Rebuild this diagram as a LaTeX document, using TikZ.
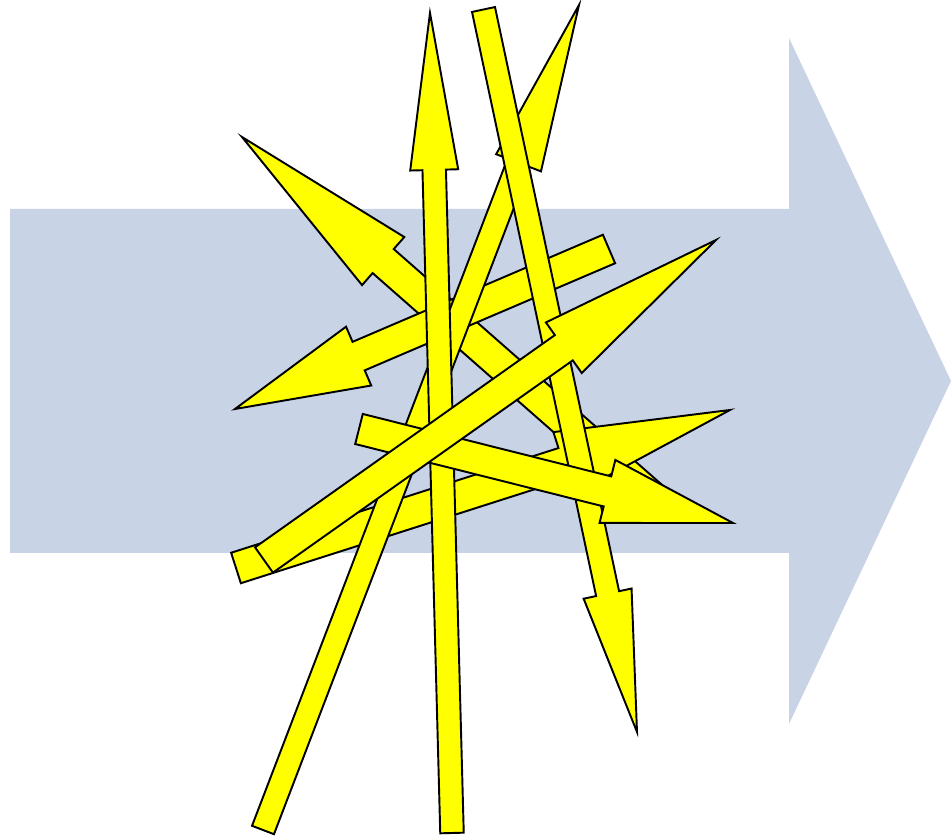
\documentclass[tikz,border=0pt]{standalone}
\usetikzlibrary{calc}

\definecolor{bandblue}{RGB}{200,211,229}
\definecolor{boltyellow}{RGB}{255,255,0}

% block arrow: name, tail, tip, half shaft, half head, head length
\newcommand{\blockarrow}[6]{%
  \coordinate (#1 tail) at (#2);
  \coordinate (#1 tip) at (#3);
  \coordinate (#1 base) at ($(#1 tip)!#6!(#1 tail)$);
  \filldraw[yarrow] ($(#1 tail)!#4!90:(#1 tip)$) -- ($(#1 base)!#4!90:(#1 tip)$)
    -- ($(#1 base)!#5!90:(#1 tip)$) -- (#1 tip) -- ($(#1 base)!#5!-90:(#1 tip)$)
    -- ($(#1 base)!#4!-90:(#1 tip)$) -- ($(#1 tail)!#4!-90:(#1 tip)$) -- cycle;
}

\tikzset{
  yarrow/.style={fill=boltyellow, draw=black, line width=1.1pt, line join=miter},
  bigarrow/.style={fill=bandblue}
}

\begin{document}
\begin{tikzpicture}[x=0.02cm, y=-0.02cm]
\useasboundingbox (0,0) rectangle (951,837);

% Background arrow
\fill[bigarrow] (10,209) -- (789,209) -- (789,38) -- (951,381)
  -- (789,724) -- (789,553) -- (10,553) -- cycle;

% Yellow arrows, bottom to top
\blockarrow{northwest}{655,500}{242,137}{0.32cm}{0.64cm}{3.76cm}
\blockarrow{low}{236,568}{730,410}{0.32cm}{0.655cm}{3.5cm}
\blockarrow{west}{609,249}{235,409}{0.31cm}{0.64cm}{2.69cm}
\blockarrow{northeast}{263,830}{579,5}{0.235cm}{0.48cm}{3.38cm}
\blockarrow{north}{452,833}{430,13}{0.235cm}{0.48cm}{3.14cm}
\blockarrow{south}{483.5,9.5}{637,732}{0.235cm}{0.49cm}{2.83cm}
\blockarrow{east}{359,429}{733,523}{0.31cm}{0.65cm}{2.59cm}
\blockarrow{swing}{264,560}{716,240}{0.31cm}{0.62cm}{3.73cm}

\end{tikzpicture}
\end{document}
